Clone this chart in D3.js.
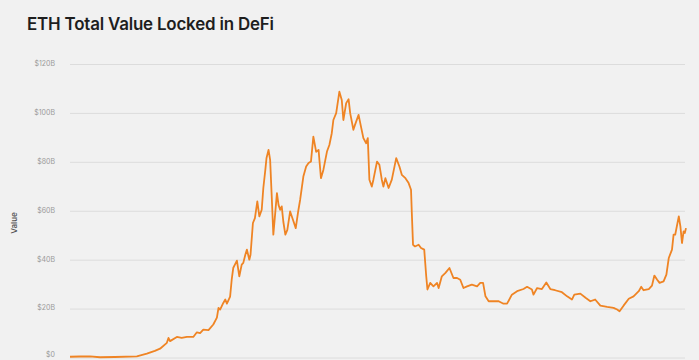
<!DOCTYPE html>
<html>
<head>
<meta charset="utf-8">
<script src="https://cdn.jsdelivr.net/npm/d3@7/dist/d3.min.js"></script>
<style>
  html, body { margin: 0; padding: 0; background: #f1f1f1; }
  svg { display: block; }
</style>
</head>
<body>
<svg id="chart" width="699" height="360"></svg>
<script>
const title = "ETH Total Value Locked in DeFi";
const yAxisLabel = "Value";
const startDate = "2019-11-15";
const yTicks = [0, 20, 40, 60, 80, 100, 120];
const yTickLabels = ["$0", "$20B", "$40B", "$60B", "$80B", "$100B", "$120B"];
// days since startDate
const dayOffsets = [0,25,50,75,112,167,192,212,225,242,246,250,267,279,292,308,317,325,333,346,358,367,371,375,383,388,392,400,404,408,412,417,423,429,433,438,442,448,451,457,462,468,473,479,483,488,491,496,500,504,508,512,517,521,525,529,533,538,543,550,557,564,570,575,583,590,596,602,608,615,621,627,633,642,648,654,658,665,673,679,683,690,696,700,708,712,721,727,733,740,744,748,754,758,767,773,779,783,788,796,804,815,823,829,838,846,852,854,857,862,871,877,885,890,893,900,908,917,921,929,938,948,958,967,975,983,992,1004,1017,1025,1032,1038,1046,1058,1071,1083,1092,1104,1117,1133,1142,1154,1158,1167,1179,1190,1200,1212,1229,1242,1254,1260,1275,1288,1300,1312,1325,1342,1358,1367,1373,1383,1396,1408,1421,1427,1433,1446,1454,1460,1467,1473,1483,1490,1496,1504,1508,1512,1521,1525,1529,1533,1536,1539];
// TVL in $B
const tvlValues = [0.3,0.4,0.5,0.1,0.2,0.5,1.6,2.7,3.6,6.0,8.0,6.7,8.4,8.0,8.4,8.4,10.3,10.0,11.4,11.2,13.5,16.3,20.3,19.6,22.3,23.7,22.0,24.9,31.8,36.7,38.0,39.6,33.2,38.0,38.7,42.0,44.1,40.0,42.0,55.0,57.0,63.8,57.7,60.4,69.3,76.7,81.6,84.9,80.8,65.8,50.2,57.7,67.2,62.4,60.4,61.8,55.5,50.2,52.2,59.7,56.3,52.9,59.6,64.5,74.0,78.1,79.5,80.1,90.3,84.1,84.9,73.3,76.7,84.2,86.9,91.7,97.1,99.9,108.7,105.3,97.1,104.0,105.6,99.9,93.1,95.1,99.2,94.4,89.7,87.6,89.7,72.7,69.9,72.7,80.1,78.8,72.7,69.9,73.3,69.3,72.7,81.5,78.1,74.7,73.3,71.3,68.6,59.1,46.1,45.4,46.1,44.8,44.1,33.2,27.8,30.5,29.1,30.5,28.4,33.2,34.6,36.6,32.5,32.5,31.8,28.4,29.1,29.8,29.1,30.5,30.5,25.0,23.0,23.0,23.0,22.0,22.0,25.7,27.1,28.0,28.9,27.8,25.7,28.4,28.0,30.7,28.0,27.5,26.7,25.0,23.7,25.7,26.1,24.4,23.0,23.7,21.2,20.7,20.3,19.6,18.9,21.2,24.0,25.0,27.1,28.9,27.5,28.0,29.4,33.5,31.8,30.5,31.1,33.9,40.7,44.1,50.2,50.2,57.7,53.6,46.8,51.6,50.9,52.9];

const svg = d3.select("#chart");
const W = 699, H = 360;
svg.append("rect").attr("width", W).attr("height", H).attr("fill", "#f1f1f1");

const t0 = d3.timeParse("%Y-%m-%d")(startDate);
const data = dayOffsets.map((d, i) => ({ date: d3.timeDay.offset(t0, d), v: tvlValues[i] }));

const margin = { left: 70, right: 13, top: 64, bottom: 2 };
const x = d3.scaleTime().domain(d3.extent(data, d => d.date)).range([margin.left, 686]);
const y = d3.scaleLinear().domain([0, 120]).range([357.5, 64]);

// gridlines + tick labels
const yAxis = d3.axisLeft(y)
  .tickValues(yTicks)
  .tickSize(-(685 - margin.left))
  .tickPadding(15)
  .tickFormat((d, i) => yTickLabels[i]);
const gAxis = svg.append("g").attr("transform", `translate(${margin.left},0)`).call(yAxis);
gAxis.select(".domain").remove();
gAxis.selectAll(".tick line").attr("stroke", "#dcdcdc").attr("stroke-width", 1);
gAxis.selectAll(".tick text")
  .attr("fill", "#9a9a9a")
  .attr("dy", d => d === 0 ? "-0.15em" : "0.2em")
  .style("font-family", "Inter, 'Noto Sans', sans-serif")
  .style("font-size", "7px");

// y-axis title
svg.append("text")
  .attr("transform", "translate(17,223) rotate(-90)")
  .attr("text-anchor", "middle")
  .attr("fill", "#555")
  .style("font-family", "Inter, 'Noto Sans', sans-serif")
  .style("font-size", "8px")
  .style("font-weight", 600)
  .text(yAxisLabel);

// line
const line = d3.line().x(d => x(d.date)).y(d => y(d.v)).curve(d3.curveLinear);
svg.append("path")
  .datum(data)
  .attr("fill", "none")
  .attr("stroke", "#ef8424")
  .attr("stroke-width", 1.8)
  .attr("stroke-linejoin", "round")
  .attr("d", line);

// title
const tt = svg.append("text")
  .attr("x", 27).attr("y", 30)
  .attr("fill", "#1e1e1e")
  .style("font-family", "Inter, 'Noto Sans', sans-serif")
  .style("font-size", "15px")
  .style("font-weight", 600)
  .style("letter-spacing", "-0.2px")
  .text(title);
const w = tt.node().getComputedTextLength();
const target = 246;
tt.style("font-size", (15 * target / w).toFixed(2) + "px");
</script>
</body>
</html>
